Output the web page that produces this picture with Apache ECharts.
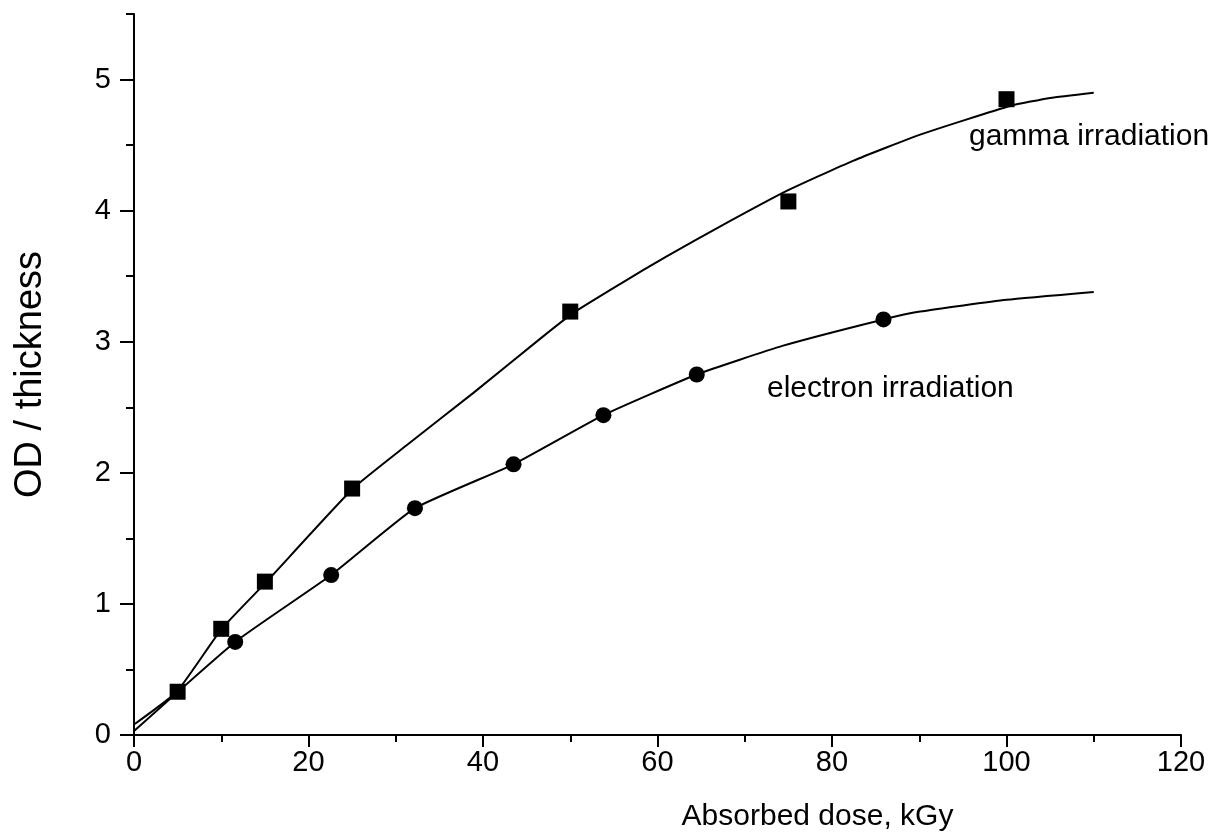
<!DOCTYPE html>
<html>
<head>
<meta charset="utf-8">
<title>OD / thickness vs absorbed dose</title>
<script src="https://cdn.jsdelivr.net/npm/echarts@6/dist/echarts.min.js"></script>
<style>
  html, body { margin: 0; padding: 0; background: #fff; }
  #chart { width: 1225px; height: 837px; }
</style>
</head>
<body>
<div id="chart"></div>
<script>
// Measured points: gamma irradiation (squares)
const gammaDose = [5, 10, 15, 25, 50, 75, 100];
const gammaOD   = [0.33, 0.81, 1.17, 1.88, 3.23, 4.07, 4.85];

// Measured points: electron irradiation (circles)
const electronDose = [11.6, 22.6, 32.2, 43.5, 53.8, 64.5, 85.9];
const electronOD   = [0.71, 1.22, 1.73, 2.065, 2.44, 2.75, 3.17];

// Calibration curve through the gamma points
const gammaCurveDose = [0, 4.9, 10.05, 15.2, 25.1, 31.25, 38.9, 46.5, 50.35, 55.7, 61, 67.2, 74.8, 82.4, 90.1, 100.5, 105, 110];
const gammaCurveOD   = [0.08, 0.33, 0.81, 1.17, 1.88, 2.21, 2.61, 3.02, 3.22, 3.44, 3.65, 3.88, 4.15, 4.38, 4.58, 4.80, 4.86, 4.90];

// Calibration curve through the electron points
const electronCurveDose = [0, 11.6, 22.6, 32.2, 43.5, 53.8, 64.5, 74.4, 85.9, 90.1, 100, 110];
const electronCurveOD   = [0.03, 0.71, 1.22, 1.73, 2.065, 2.44, 2.75, 2.97, 3.17, 3.23, 3.32, 3.38];

// Axis ticks
const xMajorTicks = [0, 20, 40, 60, 80, 100, 120];
const xMinorTicks = [10, 30, 50, 70, 90, 110];
const yMajorTicks = [0, 1, 2, 3, 4, 5];
const yMinorTicks = [0.5, 1.5, 2.5, 3.5, 4.5, 5.5];

const FONT = '"Liberation Sans", Arial, Helvetica, sans-serif';
const zip = (xs, ys) => xs.map((x, i) => [x, ys[i]]);

const chart = echarts.init(document.getElementById('chart'), null, { renderer: 'canvas' });

const axisLineStyle = { color: '#000', width: 2 };

chart.setOption({
  animation: false,
  backgroundColor: '#fff',
  grid: { left: 134, right: 44, top: 14, bottom: 100, containLabel: false },
  xAxis: [
    {
      type: 'value', min: 0, max: 120, interval: 20,
      axisLine: { show: true, onZero: false, lineStyle: axisLineStyle },
      axisTick: { show: true, inside: false, length: 12, lineStyle: axisLineStyle, customValues: xMajorTicks },
      axisLabel: { customValues: xMajorTicks, color: '#000', fontSize: 29, fontFamily: FONT, margin: 13 },
      splitLine: { show: false },
      name: 'Absorbed dose, kGy',
      nameLocation: 'middle',
      nameGap: 67,
      nameTextStyle: { color: '#000', fontSize: 30, fontFamily: FONT, padding: [0, 0, 0, 320] }
    },
    {
      type: 'value', min: 0, max: 120, position: 'bottom',
      axisLine: { show: false, onZero: false },
      axisTick: { show: true, inside: false, length: 7, lineStyle: axisLineStyle, customValues: xMinorTicks },
      axisLabel: { show: false },
      splitLine: { show: false }
    }
  ],
  yAxis: [
    {
      type: 'value', min: 0, max: 5.5, interval: 1,
      axisLine: { show: true, onZero: false, lineStyle: axisLineStyle },
      axisTick: { show: true, inside: false, length: 14, lineStyle: axisLineStyle, customValues: yMajorTicks },
      axisLabel: { customValues: yMajorTicks, color: '#000', fontSize: 29, fontFamily: FONT, margin: 23 },
      splitLine: { show: false },
      name: 'OD / thickness',
      nameLocation: 'middle',
      nameRotate: 90,
      nameGap: 84,
      nameTextStyle: { color: '#000', fontSize: 38, fontFamily: FONT }
    },
    {
      type: 'value', min: 0, max: 5.5, position: 'left',
      axisLine: { show: false, onZero: false },
      axisTick: { show: true, inside: false, length: 8, lineStyle: axisLineStyle, customValues: yMinorTicks },
      axisLabel: { show: false },
      splitLine: { show: false }
    }
  ],
  graphic: [
    {
      type: 'text', x: 969, y: 137, z: 10,
      style: { text: 'gamma irradiation', font: '30px ' + FONT, fill: '#000', verticalAlign: 'middle' }
    },
    {
      type: 'text', x: 767, y: 389, z: 10,
      style: { text: 'electron irradiation', font: '30px ' + FONT, fill: '#000', verticalAlign: 'middle' }
    }
  ],
  series: [
    {
      name: 'gamma curve', type: 'line', xAxisIndex: 0, yAxisIndex: 0,
      data: zip(gammaCurveDose, gammaCurveOD),
      showSymbol: false, smooth: 0.15,
      lineStyle: { color: '#000', width: 2 }, z: 2
    },
    {
      name: 'electron curve', type: 'line', xAxisIndex: 0, yAxisIndex: 0,
      data: zip(electronCurveDose, electronCurveOD),
      showSymbol: false, smooth: 0.15,
      lineStyle: { color: '#000', width: 2 }, z: 2
    },
    {
      name: 'gamma irradiation', type: 'scatter', xAxisIndex: 0, yAxisIndex: 0,
      data: zip(gammaDose, gammaOD),
      symbol: 'rect', symbolSize: 16,
      itemStyle: { color: '#000', opacity: 1 }, z: 5
    },
    {
      name: 'electron irradiation', type: 'scatter', xAxisIndex: 0, yAxisIndex: 0,
      data: zip(electronDose, electronOD),
      symbol: 'circle', symbolSize: 16,
      itemStyle: { color: '#000', opacity: 1 }, z: 5
    }
  ]
});
</script>
</body>
</html>
